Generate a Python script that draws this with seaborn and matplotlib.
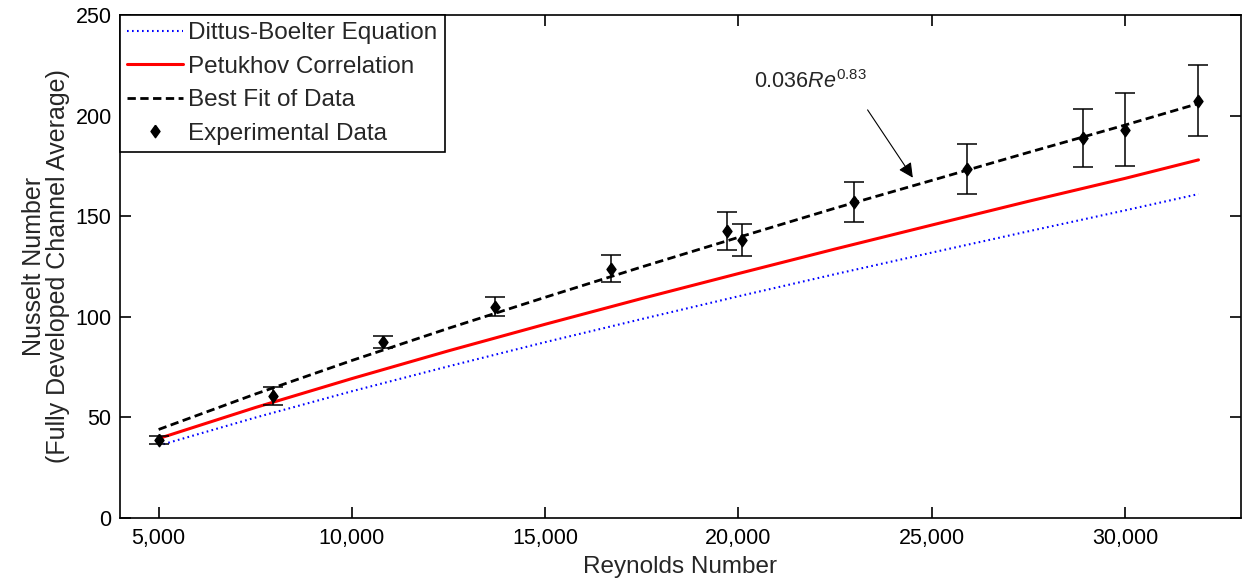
import numpy as np
import pandas as pd
import matplotlib
matplotlib.use("Agg")
import matplotlib.pyplot as plt
import seaborn as sns

sns.set_theme(style="ticks")
plt.rcParams['font.family'] = ['Liberation Sans', 'DejaVu Sans']
plt.rcParams['mathtext.fontset'] = 'custom'
plt.rcParams['mathtext.rm'] = 'Liberation Sans'
plt.rcParams['mathtext.it'] = 'Liberation Sans:italic'

re_exp = [5000, 7950, 10800, 13700, 16700, 19700, 20100, 23000, 25900, 28900, 30000, 31900]
nu_exp = [38.7, 60.5, 87.3, 105, 124, 142.5, 138, 157, 173.5, 189, 193, 207.5]
nu_err = [2.0, 4.5, 3.0, 4.7, 6.7, 9.4, 8.0, 10.0, 12.5, 14.5, 18.0, 17.5]

# correlation curves
re_line = [5000, 7500, 10000, 12500, 15000, 17500, 20000, 22500, 25000,
           27500, 30000, 31900]
nu_dittus = [36, 49.9, 63, 75.4, 87.4, 98.9, 110.2, 121.2, 131.9, 142.5, 152.9, 161]
nu_petukhov = [39.5, 54.9, 69.3, 83.1, 96.3, 109.1, 121.5, 133.7, 145.6, 157.4, 168.8, 178]
nu_fit = [44, 61.6, 78.3, 94.3, 109.7, 124.8, 139.5, 154, 167.8, 181.7, 195.3, 206]

x_ticks = [5000, 10000, 15000, 20000, 25000, 30000]
x_ticklabels = ['5,000', '10,000', '15,000', '20,000', '25,000', '30,000']
y_ticks = [0, 50, 100, 150, 200, 250]

df = pd.DataFrame({'Re': re_line, 'dittus': nu_dittus,
                   'petukhov': nu_petukhov, 'fit': nu_fit})

# diamond a bit wider than matplotlib's 'd'
diamond = [(0, 1), (0.72, 0), (0, -1), (-0.72, 0), (0, 1)]

fig = plt.figure(figsize=(12.42, 5.84), dpi=100)
ax = fig.add_axes([0.0966, 0.1130, 0.9026, 0.8613])

sns.lineplot(data=df, x='Re', y='dittus', ax=ax, color='#0000ff', lw=1.5,
             linestyle=(0, (0.8, 1.6)), label='Dittus-Boelter Equation')
sns.lineplot(data=df, x='Re', y='petukhov', ax=ax, color='#ff0000', lw=2.2,
             label='Petukhov Correlation')
sns.lineplot(data=df, x='Re', y='fit', ax=ax, color='black', lw=2.0,
             linestyle=(0, (3, 1.6)), label='Best Fit of Data')
ax.errorbar(re_exp, nu_exp, yerr=nu_err, fmt='none', ecolor='black',
            elinewidth=1.1, capsize=7.5, capthick=1.1)
ax.plot(re_exp, nu_exp, marker=diamond, ls='none', color='black', ms=9,
        label='Experimental Data')

ax.annotate('', xy=(24550, 168), xytext=(23300, 204),
            arrowprops=dict(arrowstyle='-|>', color='black', lw=0.8,
                            mutation_scale=22))
ax.text(20400, 217, r'0.036$\mathit{Re}^{0.83}$', fontsize=15.5,
        va='center', ha='left')

ax.set_xlim(4000, 33000)
ax.set_ylim(0, 250)
ax.set_xticks(x_ticks)
ax.set_xticklabels(x_ticklabels)
ax.set_yticks(y_ticks)
ax.tick_params(direction='in', length=8, width=1.2, labelsize=15.5,
               top=True, right=True, colors='black')
ax.tick_params(axis='x', pad=7)
ax.tick_params(axis='y', pad=6)
for s in ax.spines.values():
    s.set_visible(True)
    s.set_color('black')
    s.set_linewidth(1.2)
ax.set_xlabel('Reynolds Number', fontsize=17.5, labelpad=5)
ax.set_ylabel('Nusselt Number\n(Fully Developed Channel Average)', fontsize=18,
              labelpad=4, linespacing=1.0)

leg = ax.legend(loc='upper left', fontsize=17.5, frameon=True, fancybox=False,
                edgecolor='black', framealpha=1, handlelength=2.3,
                borderaxespad=0, labelspacing=0.47, handletextpad=0.2,
                borderpad=0.3)
leg.get_frame().set_linewidth(1.2)

fig.savefig('out.png', dpi=100)
